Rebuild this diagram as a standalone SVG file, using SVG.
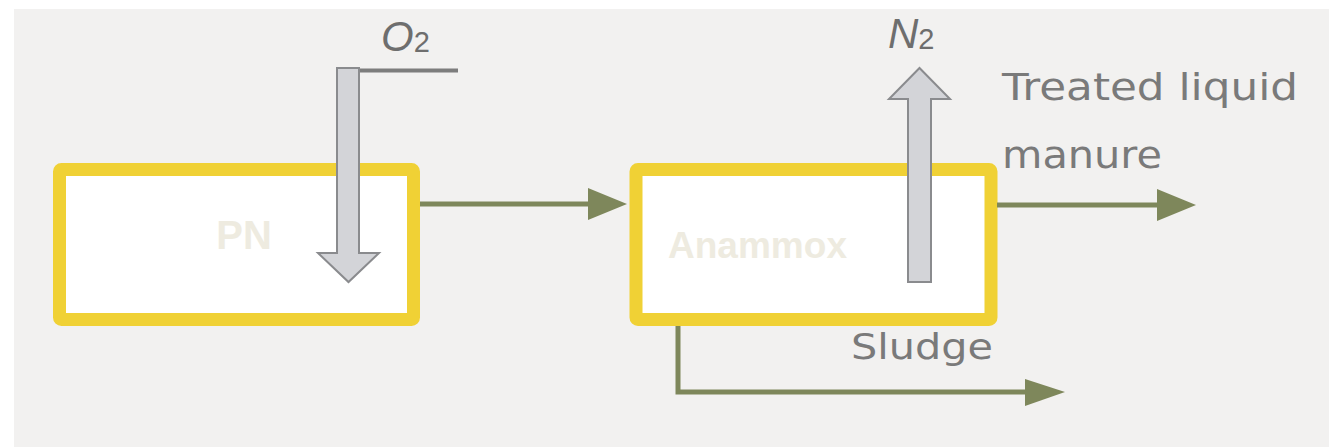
<svg xmlns="http://www.w3.org/2000/svg" width="1329" height="447" viewBox="0 0 1329 447">
  <defs>
    <style>
      .reactor { fill: #ffffff; stroke: #f0d135; stroke-width: 13; stroke-linejoin: round; }
      .title { font-family: "Liberation Sans", Arial, sans-serif; font-weight: bold; fill: #eeebe0; }
      .label { font-family: "DejaVu Sans", Verdana, sans-serif; fill: #7a7a7a; }
      .gas { font-family: "Liberation Sans", Arial, sans-serif; font-style: italic; fill: #6e6e6e; }
      .flow { fill: none; stroke: #7e875b; stroke-width: 5; }
      .head { fill: #7e875b; }
      .gasarrow { fill: #d3d4d8; stroke: #8a8b8e; stroke-width: 2; stroke-linejoin: miter; }
    </style>
  </defs>

  <!-- canvas -->
  <rect x="0" y="0" width="1329" height="447" fill="#ffffff"/>
  <rect x="14" y="9" width="1315" height="438" fill="#f2f1f0"/>

  <!-- reactors -->
  <g id="pn">
    <rect class="reactor" x="59.5" y="169.5" width="354" height="150" rx="2"/>
    <text class="title" x="244" y="249" font-size="40" text-anchor="middle">PN</text>
  </g>

  <g id="anammox">
    <rect class="reactor" x="636" y="169.5" width="355" height="150" rx="2"/>
    <text class="title" x="668" y="258" font-size="36" textLength="179" lengthAdjust="spacingAndGlyphs">Anammox</text>
  </g>

  <!-- process flows -->
  <g id="connectors">
    <line class="flow" x1="420" y1="204" x2="592" y2="204"/>
    <polygon class="head" points="588,188 627,204 588,220"/>

    <line class="flow" x1="997" y1="205" x2="1160" y2="205"/>
    <polygon class="head" points="1157,189 1196,205 1157,221"/>

    <polyline class="flow" points="678,326 678,392 1028,392"/>
    <polygon class="head" points="1025,379 1065,392 1025,406"/>
  </g>

  <!-- oxygen supply -->
  <g id="oxygen">
    <line x1="356" y1="70.5" x2="458" y2="70.5" stroke="#7d7d7d" stroke-width="4"/>
    <path class="gasarrow" d="M337,68 H359 V253 H379 L348.5,282 L318,253 H337 Z"/>
    <text class="gas" x="381" y="51" font-size="42">O<tspan font-size="29" font-style="normal" dy="1">2</tspan></text>
  </g>

  <!-- nitrogen off-gas -->
  <g id="nitrogen">
    <path class="gasarrow" d="M908,282 V99 H889 L919.5,68 L950,99 H931 V282 Z"/>
    <text class="gas" x="888" y="48" font-size="42">N<tspan font-size="29" font-style="normal" dy="1">2</tspan></text>
  </g>

  <!-- stream labels -->
  <g id="labels">
    <text class="label" x="1002" y="100" font-size="38" textLength="296" lengthAdjust="spacingAndGlyphs">Treated liquid</text>
    <text class="label" x="1002" y="168" font-size="38" textLength="160" lengthAdjust="spacingAndGlyphs">manure</text>
    <text class="label" x="851" y="359" font-size="36" textLength="142" lengthAdjust="spacingAndGlyphs">Sludge</text>
  </g>
</svg>
